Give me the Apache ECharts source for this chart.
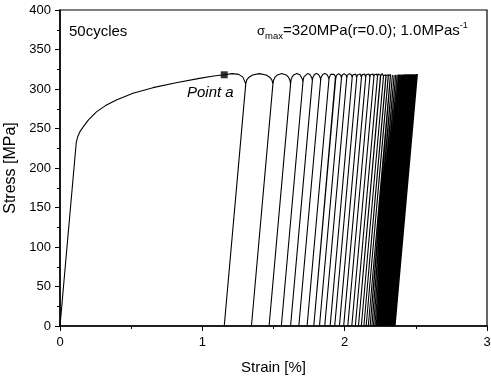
<!DOCTYPE html>
<html><head><meta charset="utf-8">
<script src="https://cdn.jsdelivr.net/npm/echarts@6/dist/echarts.min.js"></script>
<style>html,body{margin:0;padding:0;background:#fff}#c{width:491px;height:380px}</style>
</head><body><div id="c"></div>
<script>
// ---- data ----
const xTickValues = [0, 1, 2, 3];
const yTickValues = [0, 50, 100, 150, 200, 250, 300, 350, 400];

// initial monotonic loading up to Point a, then the hold before the first unloading
const loadStrain = [0, 0.114, 0.125, 0.14, 0.163, 0.2, 0.256, 0.32, 0.396, 0.513, 0.653, 0.816, 0.979, 1.08, 1.154, 1.21, 1.255, 1.285];
const loadStress = [0, 232, 240, 246, 252, 261, 271, 279, 286, 294.5, 301.7, 308, 313.5, 316.5, 318, 319.5, 318.5, 315];

// Point a
const pointA = [1.154, 318];

// strain at zero stress after each of the 50 unloadings (%)
const cycleBottomStrain = [
  1.154, 1.345, 1.469, 1.555, 1.620, 1.678, 1.736, 1.783, 1.823, 1.860,
  1.898, 1.930, 1.963, 1.993, 2.022, 2.050, 2.075, 2.097, 2.117, 2.135,
  2.151, 2.166, 2.179, 2.191, 2.202, 2.212, 2.221, 2.229, 2.237, 2.245,
  2.252, 2.259, 2.266, 2.272, 2.278, 2.284, 2.290, 2.295, 2.300, 2.305,
  2.310, 2.315, 2.320, 2.325, 2.330, 2.335, 2.340, 2.345, 2.350, 2.354
];

// rounded loop-top shape (fraction across the loop, fraction of arch height)
const archFrac    = [0, 0.04, 0.12, 0.25, 0.5, 0.75, 0.88, 0.96, 1];
const archProfile = [0, 0.38, 0.65, 0.87, 1, 0.87, 0.65, 0.38, 0];
const peakStress = 319.5;    // flat top of the loops (MPa)
const finalStress = 319;     // last peak
const maxArchDepth = 13;     // MPa, for the widest loops
const depthPerStrain = 150;  // MPa of arch depth per % of loop width (narrow loops)
const modulus = 2030;        // MPa per % strain (slope of the elastic lines)

// ---- build path ----
const N = cycleBottomStrain.length;
const widths = [];
for (let n = 0; n < N - 1; n++) widths.push(cycleBottomStrain[n + 1] - cycleBottomStrain[n]);
function cusp(n) {
  const wl = n > 0 ? widths[n - 1] : widths[0];
  const wr = n < N - 1 ? widths[n] : widths[N - 2];
  const w = (wl + wr) / 2;
  return peakStress - Math.min(maxArchDepth, depthPerStrain * w);
}
const path = [];
for (let i = 0; i < loadStrain.length; i++) path.push([loadStrain[i], loadStress[i]]);
for (let n = 0; n < N; n++) {
  const b = cycleBottomStrain[n];
  const c = cusp(n);
  const top = b + c / modulus;
  path.push([top, c]);
  path.push([b, 0]);
  path.push([top, c]);
  if (n < N - 1) {
    const c1 = cusp(n + 1);
    const top1 = cycleBottomStrain[n + 1] + c1 / modulus;
    for (let k = 1; k < archFrac.length - 1; k++) {
      const t = archFrac[k];
      const base = c + (c1 - c) * t;
      path.push([top + (top1 - top) * t, base + (peakStress - base) * archProfile[k]]);
    }
  } else {
    path.push([b + finalStress / modulus, finalStress]);
  }
}

const FONT = 'Liberation Sans, Arial, Helvetica, sans-serif';
const chart = echarts.init(document.getElementById('c'), null, {renderer: 'canvas'});
chart.setOption({
  animation: false,
  backgroundColor: '#fff',
  grid: {left: 60, right: 4, top: 10, bottom: 54, show: true, borderColor: '#000', borderWidth: 1.2,
         containLabel: false, outerBoundsMode: 'none'},
  xAxis: {
    type: 'value', min: xTickValues[0], max: xTickValues[xTickValues.length - 1], interval: 1,
    axisLine: {show: true, onZero: false, lineStyle: {color: '#000', width: 1.5}},
    axisTick: {show: true, length: 5, lineStyle: {color: '#000', width: 1}},
    minorTick: {show: true, splitNumber: 2, length: 3, lineStyle: {color: '#000', width: 1}},
    splitLine: {show: false},
    axisLabel: {color: '#000', fontSize: 13, fontFamily: FONT, margin: 10},
    name: 'Strain [%]', nameLocation: 'middle', nameGap: 34,
    nameTextStyle: {color: '#000', fontSize: 15, fontFamily: FONT}
  },
  yAxis: {
    type: 'value', min: yTickValues[0], max: yTickValues[yTickValues.length - 1], interval: 50,
    axisLine: {show: true, onZero: false, lineStyle: {color: '#000', width: 1.5}},
    axisTick: {show: true, length: 5, lineStyle: {color: '#000', width: 1}},
    minorTick: {show: true, splitNumber: 2, length: 3, lineStyle: {color: '#000', width: 1}},
    splitLine: {show: false},
    axisLabel: {color: '#000', fontSize: 13, fontFamily: FONT, margin: 9},
    name: 'Stress [MPa]', nameLocation: 'middle', nameGap: 35,
    nameTextStyle: {color: '#000', fontSize: 16, fontFamily: FONT}
  },
  series: [
    {type: 'line', data: path, showSymbol: false, symbol: 'none', smooth: false,
     lineStyle: {color: '#000', width: 1.1}, silent: true, clip: true},
    {type: 'scatter', data: [pointA], symbol: 'rect', symbolSize: 7,
     itemStyle: {color: '#000'}, silent: true}
  ],
  graphic: [
    {type: 'text', x: 69, y: 32, silent: true,
     style: {text: '50cycles', fill: '#000', font: '15px ' + FONT, fontSize: 15, fontFamily: FONT,
             verticalAlign: 'middle', textVerticalAlign: 'middle'}},
    {type: 'text', x: 187, y: 93, silent: true,
     style: {text: 'Point a', fill: '#000', fontSize: 15, fontStyle: 'italic', fontFamily: FONT,
             font: 'italic 15px ' + FONT, verticalAlign: 'middle', textVerticalAlign: 'middle'}},
    {type: 'text', x: 257, y: 31, silent: true,
     style: {
       text: '{sig|σ}{sub|max}=320MPa(r=0.0); 1.0MPas{sup|-1}',
       fill: '#000', fontSize: 15, fontFamily: FONT, lineHeight: 20,
       verticalAlign: 'middle', textVerticalAlign: 'middle',
       rich: {
         sig: {fontSize: 13, fontFamily: FONT, fill: '#000', lineHeight: 20},
         sub: {fontSize: 9.5, fontFamily: FONT, fill: '#000', lineHeight: 10, verticalAlign: 'bottom'},
         sup: {fontSize: 9, fontFamily: FONT, fill: '#000', lineHeight: 10, verticalAlign: 'top'}
       }
     }}
  ]
});
</script></body></html>
